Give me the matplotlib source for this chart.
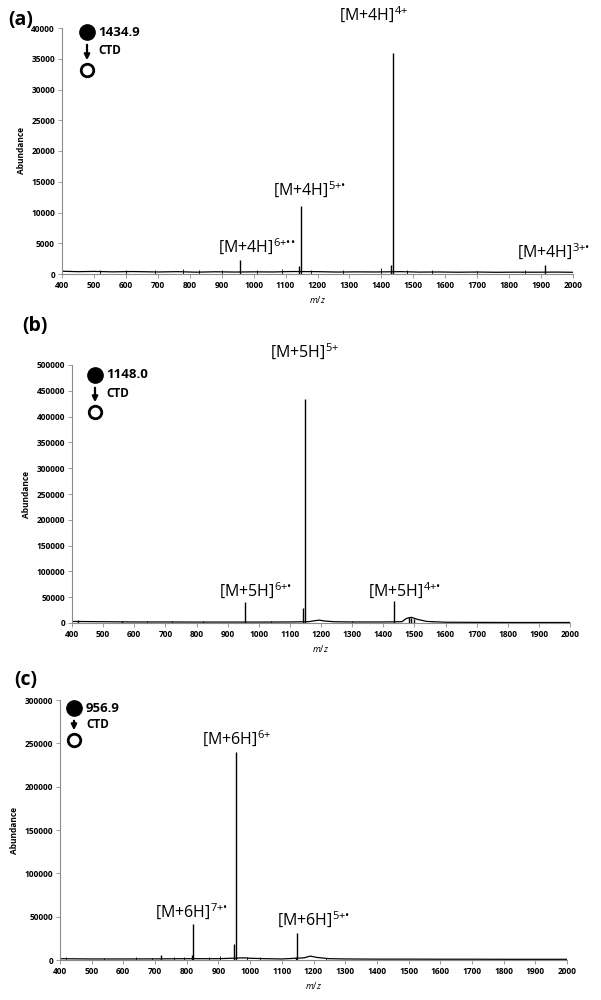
import matplotlib
matplotlib.use('Agg')
import matplotlib.pyplot as plt
from matplotlib.lines import Line2D
from matplotlib.patches import FancyArrowPatch
import numpy as np

plt.rcParams['font.family'] = ['Open Sans', 'DejaVu Sans']
plt.rcParams['mathtext.fontset'] = 'custom'
plt.rcParams['mathtext.rm'] = 'Open Sans'
plt.rcParams['mathtext.it'] = 'Open Sans:italic'
plt.rcParams['mathtext.bf'] = 'Open Sans:bold'

# ---- data ----
# panel (a): precursor 1434.9, CTD
a_peak_mz = [956.5, 1141.0, 1148.0, 1430.0, 1434.9, 1913.0]
a_peak_ab = [2300, 1300, 11000, 1500, 36000, 1400]
a_base_mz = [400, 450, 500, 560, 620, 700, 760, 820, 880, 940, 1000, 1060, 1120, 1200,
             1260, 1320, 1380, 1460, 1520, 1580, 1640, 1700, 1760, 1820, 1880, 1950, 2000]
a_base_ab = [450, 380, 420, 350, 400, 330, 380, 300, 360, 320, 350, 330, 400, 380,
             320, 350, 330, 380, 310, 330, 290, 320, 280, 300, 290, 310, 280]
a_noise_mz = [520, 600, 690, 780, 830, 900, 1010, 1090, 1180, 1280, 1400, 1480, 1560, 1700, 1850]
a_noise_ab = [650, 600, 700, 750, 600, 650, 700, 800, 700, 650, 900, 700, 600, 550, 600]

# panel (b): precursor 1148.0, CTD
b_peak_mz = [418, 562, 957.0, 1143.0, 1148.0, 1435.0, 1482, 1490, 1498]
b_peak_ab = [5000, 4500, 40000, 30000, 435000, 42000, 12000, 10000, 7000]
b_base_mz = [400, 500, 600, 700, 800, 900, 1000, 1100, 1160, 1180, 1195, 1210, 1240, 1300,
             1400, 1460, 1475, 1490, 1510, 1540, 1600, 1700, 1800, 1900, 2000]
b_base_ab = [3000, 2500, 2000, 2000, 1800, 1800, 1800, 2000, 2500, 4500, 5500, 4000, 2500, 2000,
             2000, 2500, 9000, 11000, 7000, 3000, 1500, 1200, 1000, 1000, 1000]
b_noise_mz = [640, 720, 820, 1040, 1300, 1560]
b_noise_ab = [3500, 3000, 3500, 3500, 3000, 2500]

# panel (c): precursor 956.9, CTD
c_peak_mz = [718, 815, 820.0, 950, 956.9, 1145, 1148.0]
c_peak_ab = [6000, 6000, 42000, 18000, 240000, 4000, 31000]
c_base_mz = [400, 500, 600, 700, 800, 900, 980, 1000, 1050, 1100, 1170, 1190, 1210, 1250,
             1300, 1400, 1500, 1600, 1700, 1800, 1900, 2000]
c_base_ab = [1500, 1200, 1200, 1300, 1500, 1500, 2500, 2000, 1500, 1200, 2500, 4500, 3000, 1500,
             1200, 1000, 1000, 900, 900, 800, 800, 800]
c_noise_mz = [420, 540, 640, 690, 760, 790, 870, 905, 990, 1030, 1240]
c_noise_ab = [3000, 2500, 3000, 2500, 3000, 4000, 3500, 4500, 4000, 3500, 2500]

# ion labels: text, label centre m/z, label bottom abundance
a_labels = [('[M+4H]$^{6{+}••}$', 1010, 2700),
            ('[M+4H]$^{5{+}•}$', 1176, 12000),
            ('[M+4H]$^{4{+}}$', 1375, 40500),
            ('[M+4H]$^{3{+}•}$', 1940, 2000)]
b_labels = [('[M+5H]$^{6{+}•}$', 990, 42000),
            ('[M+5H]$^{5{+}}$', 1148, 505000),
            ('[M+5H]$^{4{+}•}$', 1470, 43000)]
c_labels = [('[M+6H]$^{7{+}•}$', 815, 43500),
            ('[M+6H]$^{6{+}}$', 956.9, 243000),
            ('[M+6H]$^{5{+}•}$', 1200, 34500)]

panels = [
    dict(tag='(a)', prec='1434.9', ymax=40000, ystep=5000,
         pmz=a_peak_mz, pab=a_peak_ab, bmz=a_base_mz, bab=a_base_ab, nmz=a_noise_mz, nab=a_noise_ab,
         pos=(62, 28, 573, 274), tagxy=(8, 20), sym=(87, 98, 32, 70), labels=a_labels),
    dict(tag='(b)', prec='1148.0', ymax=500000, ystep=50000,
         pmz=b_peak_mz, pab=b_peak_ab, bmz=b_base_mz, bab=b_base_ab, nmz=b_noise_mz, nab=b_noise_ab,
         pos=(72, 365, 570, 623), tagxy=(22, 326), sym=(95, 106, 375, 412), labels=b_labels),
    dict(tag='(c)', prec='956.9', ymax=300000, ystep=50000,
         pmz=c_peak_mz, pab=c_peak_ab, bmz=c_base_mz, bab=c_base_ab, nmz=c_noise_mz, nab=c_noise_ab,
         pos=(60, 700, 567, 960), tagxy=(14, 680), sym=(74, 86, 708, 740), labels=c_labels),
]

W, H = 601, 1000
fig = plt.figure(figsize=(6.01, 10), dpi=100)
grey = '#8c8c8c'


def fx(px):
    return px / W


def fy(py):
    return 1 - py / H


for p in panels:
    l, t, r, b = p['pos']
    ax = fig.add_axes([fx(l), fy(b), (r - l) / W, (b - t) / H])
    ax.plot(p['bmz'], p['bab'], color='black', lw=0.9)
    ax.vlines(p['nmz'], 0, p['nab'], color='black', lw=0.6)
    ax.vlines(p['pmz'], 0, p['pab'], color='black', lw=1.0)
    ax.set_xlim(400, 2000)
    ax.set_ylim(0, p['ymax'])
    ax.set_xticks(np.arange(400, 2001, 100))
    ax.set_yticks(np.arange(0, p['ymax'] + 1, p['ystep']))
    for s in ['top', 'right']:
        ax.spines[s].set_visible(False)
    for s in ['left', 'bottom']:
        ax.spines[s].set_color(grey)
        ax.spines[s].set_linewidth(0.8)
    ax.tick_params(axis='both', colors=grey, length=3, width=0.6, labelsize=6,
                   labelcolor='black', pad=2)
    for lab in ax.get_xticklabels() + ax.get_yticklabels():
        lab.set_fontweight('bold')
    ax.set_ylabel('Abundance', fontsize=6, fontweight='bold', labelpad=4)
    ax.set_xlabel('$m/z$', fontsize=6.5, fontweight='bold', labelpad=3)

    for txt, x, y in p['labels']:
        ax.text(x, y, txt, ha='center', va='bottom', fontsize=11.5, clip_on=False)

    # panel tag
    fig.text(fx(p['tagxy'][0]), fy(p['tagxy'][1]), p['tag'], fontsize=14,
             fontweight='bold', va='center', ha='left')
    # precursor -> CTD symbol
    sx, tx, y1, y2 = p['sym']
    fig.add_artist(Line2D([fx(sx)], [fy(y1)], marker='o', ms=11, color='black',
                          transform=fig.transFigure))
    fig.add_artist(Line2D([fx(sx)], [fy(y2)], marker='o', ms=9, mfc='white', mec='black',
                          mew=2, transform=fig.transFigure))
    fig.add_artist(FancyArrowPatch((fx(sx), fy(y1 + 10)), (fx(sx), fy(y2 - 7)),
                                   transform=fig.transFigure, arrowstyle='-|>',
                                   mutation_scale=8, color='black', lw=1.6))
    fig.text(fx(tx), fy(y1), p['prec'], fontsize=9.5, fontweight='bold', va='center')
    fig.text(fx(tx), fy((y1 + y2) / 2), 'CTD', fontsize=8.5, fontweight='bold', va='center')

fig.savefig('out.png', dpi=100)
